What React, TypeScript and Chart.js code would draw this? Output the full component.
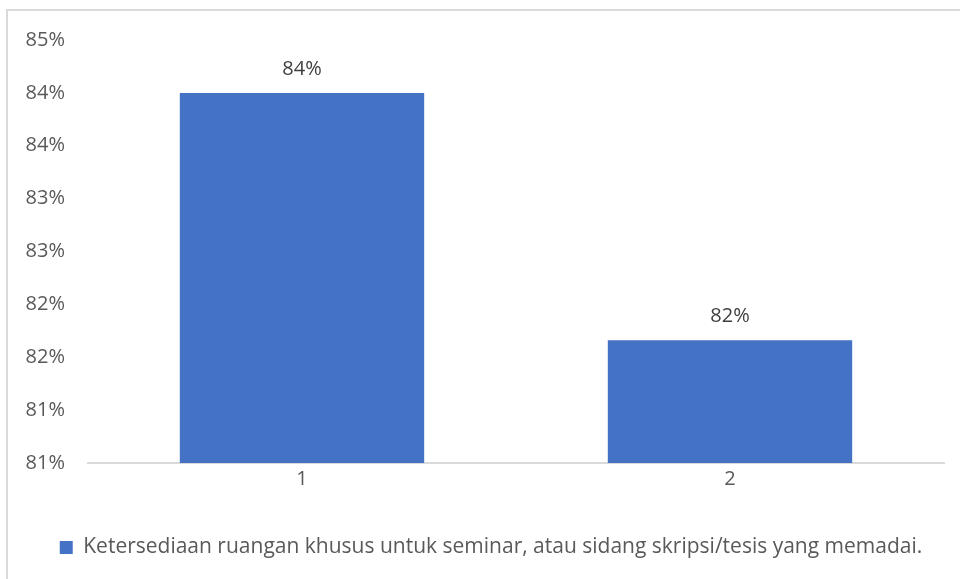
import React, { useEffect, useRef } from "react";
import { Chart, registerables } from "chart.js";

Chart.register(...registerables);

const categories = ["1", "2"];
const seriesName =
  "Ketersediaan ruangan khusus untuk seminar, atau sidang skripsi/tesis yang memadai.";
const seriesValues = [0.845, 0.8216];
const valueLabels = ["84%", "82%"];
const tickLabels = ["81%", "81%", "82%", "82%", "83%", "83%", "84%", "84%", "85%"];

const FONT = "'Open Sans', sans-serif";

const dataLabelPlugin = {
  id: "dataLabels",
  afterDatasetsDraw(chart: any) {
    const ctx = chart.ctx;
    const meta = chart.getDatasetMeta(0);
    ctx.save();
    ctx.font = `20px ${FONT}`;
    ctx.fillStyle = "#404040";
    ctx.textAlign = "center";
    ctx.textBaseline = "middle";
    meta.data.forEach((bar: any, i: number) => {
      ctx.fillText(valueLabels[i], bar.x, bar.y - 24);
    });
    ctx.restore();
  },
};

export default function App() {
  const ref = useRef<HTMLCanvasElement | null>(null);
  useEffect(() => {
    if (!ref.current) return;
    const chart = new Chart(ref.current, {
      type: "bar",
      data: {
        labels: categories,
        datasets: [
          {
            label: seriesName,
            data: seriesValues,
            backgroundColor: "#4472C4",
            borderWidth: 0,
            categoryPercentage: 1,
            barPercentage: 0.571,
            yAxisID: "y",
          },
        ],
      },
      options: {
        animation: false,
        responsive: false,
        maintainAspectRatio: false,
        layout: { padding: { left: 0, right: 0, top: 40, bottom: 11 } },
        plugins: {
          legend: {
            display: true,
            position: "bottom",
            labels: {
              boxWidth: 13,
              boxHeight: 13,
              color: "#595959",
              font: { family: FONT, size: 21 },
              padding: 14,
            },
          },
          tooltip: { enabled: false },
        },
        scales: {
          x: {
            grid: { display: false, drawTicks: false },
            border: { display: true, color: "#d9d9d9", width: 2 },
            afterFit: (scale: any) => {
              scale.height = 60;
            },
            ticks: {
              color: "#595959",
              font: { family: FONT, size: 20 },
              padding: 4,
            },
          },
          y: {
            min: 0.81,
            max: 0.85,
            grid: { display: false, drawTicks: false },
            border: { display: false },
            afterFit: (scale: any) => {
              scale.width = 88;
            },
            ticks: {
              stepSize: 0.005,
              padding: 23,
              color: "#595959",
              font: { family: FONT, size: 20 },
              callback: (_v: any, i: number) => tickLabels[i],
            },
          },
          yRight: {
            position: "right",
            min: 0.81,
            max: 0.85,
            grid: { display: false, drawTicks: false },
            border: { display: false },
            ticks: { display: false },
            afterFit: (scale: any) => {
              scale.width = 38;
            },
          },
        },
      },
      plugins: [dataLabelPlugin],
    });
    return () => chart.destroy();
  }, []);

  return (
    <div
      style={{
        position: "fixed",
        left: 0,
        top: 0,
        width: 960,
        height: 579,
        overflow: "hidden",
        background: "#fff",
      }}
    >
      <div
        style={{
          position: "absolute",
          left: 6,
          top: 9,
          width: 990,
          height: 620,
          border: "2px solid #d9d9d9",
          boxSizing: "border-box",
        }}
      />
      <canvas
        ref={ref}
        width={982}
        height={579}
        style={{ position: "absolute", left: 0, top: 0, width: 982, height: 579 }}
      />
    </div>
  );
}
